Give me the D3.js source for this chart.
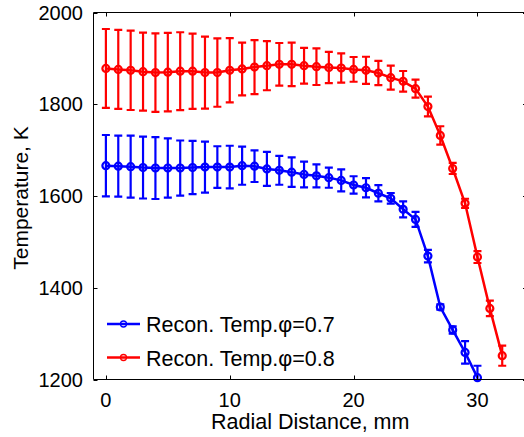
<!DOCTYPE html>
<html>
<head>
<meta charset="utf-8">
<script src="https://cdn.jsdelivr.net/npm/d3@7"></script>
<style>
html,body{margin:0;padding:0;background:#fff;overflow:hidden;}
svg{display:block;}
text{font-family:"Liberation Sans",Arial,Helvetica,sans-serif;fill:#000;}
</style>
</head>
<body>
<svg id="chart" width="524" height="437"></svg>
<script>
// ---- data ----
const redX = d3.range(0, 33);
const redMean = [1878,1876,1874,1871,1869,1870,1872,1872,1869,1869,1874,1877,1881,1884,1887,1887,1884,1882,1880,1879,1876,1874,1868,1858,1850,1834,1795,1732,1660,1584,1467,1355,1252];
const redErr  = [86,86,86.5,85,85.5,85.5,85,82,78.5,74.5,70,57.5,59,53.5,46.5,47.5,39,40,34,32,27,29.5,26.5,26,22.5,19.5,21.5,20,12,10,13,17,22];
const blueX = d3.range(0, 31);
const blueMean = [1666,1665,1664,1662,1661,1661,1661,1662,1663,1663,1663,1666,1665,1659,1656,1652,1647,1644,1640,1634,1624,1618,1606,1595,1571,1549,1469,1358,1308,1259,1204];
const blueErr  = [67,66.5,67.5,67.5,67.5,64.5,60,58,55.5,45.5,46.5,41.5,34.5,37,31.5,32,28,25,22,24,19,21,17.5,11.5,17.5,16.5,13.5,6,8,24.5,26];
const xTicks = [0,10,20,30];
const yTicks = [1200,1400,1600,1800,2000];
const seriesNames = ["Recon. Temp.\u03C6=0.7","Recon. Temp.\u03C6=0.8"];
const seriesColors = ["#0000ff","#ff0000"];

// ---- layout ----
const L = 93.5, R = 527, T = 12.5, B = 379.5;
const svg = d3.select("#chart");
const x = d3.scaleLinear().domain([-1, 34]).range([L, R]);
const y = d3.scaleLinear().domain([1200, 2000]).range([B, T]);

const defs = svg.append("defs");
defs.append("clipPath").attr("id","clip").append("rect")
  .attr("x", L).attr("y", T).attr("width", R-L).attr("height", B-T);

const series = [
  {xs: blueX, m: blueMean, e: blueErr, c: seriesColors[0]},
  {xs: redX, m: redMean, e: redErr, c: seriesColors[1]}
];

const plot = svg.append("g");
const clipped = plot.append("g").attr("clip-path","url(#clip)");
const capW = 4;
series.forEach(s => {
  const pts = s.xs.map((xv,i)=>({x:xv, m:s.m[i], e:s.e[i]}));
  const g = clipped.append("g");
  // error bars
  g.selectAll("path.eb").data(pts).enter().append("path")
    .attr("d", d => {
      const cx = x(d.x), y1 = y(d.m + d.e), y2 = y(d.m - d.e);
      return `M${cx},${y1}V${y2}M${cx-capW},${y1}H${cx+capW}M${cx-capW},${y2}H${cx+capW}`;
    })
    .attr("stroke", s.c).attr("stroke-width", 2.2).attr("fill","none");
  // line
  g.append("path").datum(pts)
    .attr("d", d3.line().x(d=>x(d.x)).y(d=>y(d.m)))
    .attr("stroke", s.c).attr("stroke-width", 2.5).attr("fill","none");
  // markers
  plot.selectAll(null).data(pts.filter(d=>y(d.m)<=B+1)).enter().append("circle")
    .attr("cx", d=>x(d.x)).attr("cy", d=>y(d.m)).attr("r", 3.5)
    .attr("fill","none").attr("stroke", s.c).attr("stroke-width", 2.2);
});

// ---- axes box ----
const ax = svg.append("g").attr("stroke","#000").attr("stroke-width",1).attr("fill","none");
ax.append("path").attr("d", `M${L},${T}H${R}M${L},${T}V${B}H${R}V${T}`);
const tl = 4;
xTicks.forEach(t => {
  const px = Math.round(x(t)) + 0.5;
  ax.append("path").attr("d", `M${px},${B}v${-tl}M${px},${T}v${tl}`);
});
yTicks.forEach(t => {
  const py = Math.round(y(t)) + 0.5;
  ax.append("path").attr("d", `M${L},${py}h${tl}M${R},${py}h${-tl}`);
});

// tick labels
const fs = 20;
svg.append("g").selectAll("text").data(xTicks).enter().append("text")
  .attr("x", d=>x(d)).attr("y", 407).attr("text-anchor","middle")
  .attr("font-size", fs).text(d=>d);
svg.append("g").selectAll("text").data(yTicks).enter().append("text")
  .attr("x", 83).attr("y", d=>y(d)+7).attr("text-anchor","end")
  .attr("font-size", fs).text(d=>d);

// axis labels
svg.append("text").attr("x", (L+R)/2).attr("y", 429).attr("text-anchor","middle")
  .attr("font-size", 21.5).text("Radial Distance, mm");
svg.append("text").attr("transform", `translate(28,198) rotate(-90)`)
  .attr("text-anchor","middle").attr("font-size", 21).text("Temperature, K");

// legend
const lg = svg.append("g");
[324, 357.5].forEach((ly, i) => {
  lg.append("path").attr("d", `M107,${ly}H140`).attr("stroke", seriesColors[i]).attr("stroke-width", 2.5);
  lg.append("circle").attr("cx", 123.5).attr("cy", ly).attr("r", 3)
    .attr("fill","none").attr("stroke", seriesColors[i]).attr("stroke-width", 1.3);
  lg.append("text").attr("x", 146).attr("y", ly+8).attr("font-size", 21.5).text(seriesNames[i]);
});
</script>
</body>
</html>
